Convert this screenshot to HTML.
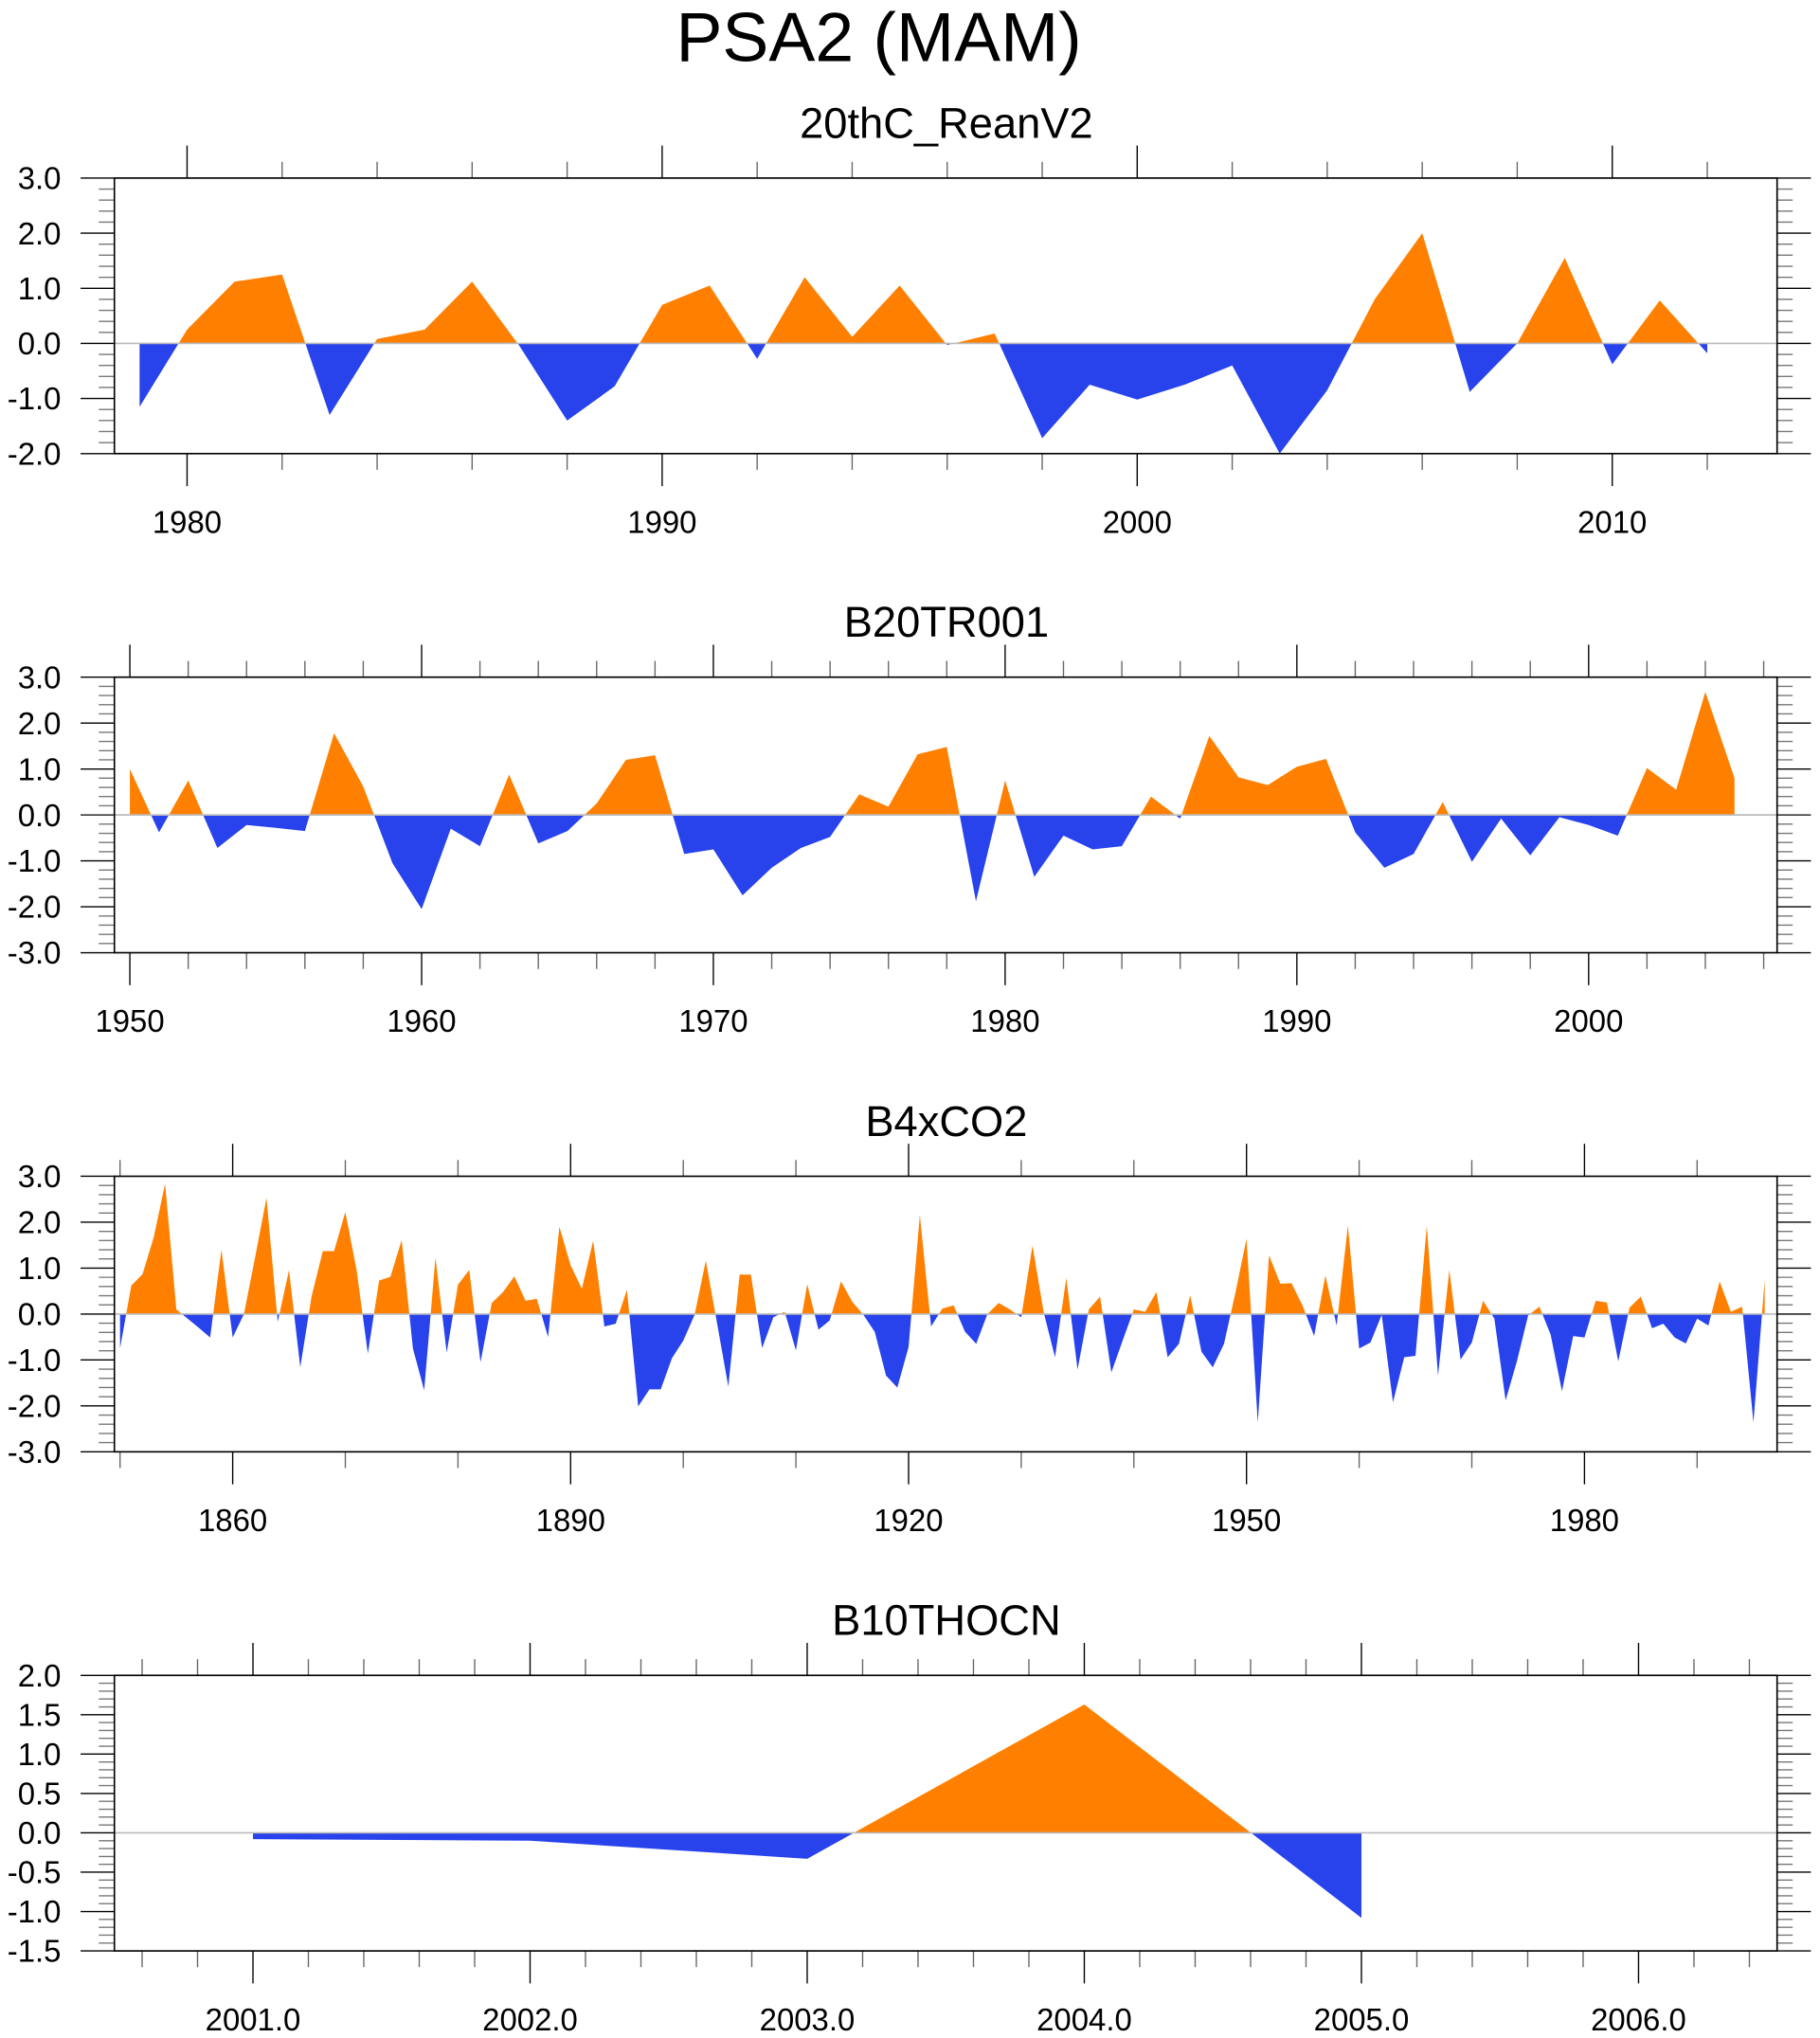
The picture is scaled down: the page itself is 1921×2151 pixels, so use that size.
<!DOCTYPE html>
<html><head><meta charset="utf-8"><style>
html,body{margin:0;padding:0;background:#fff}
svg{display:block}
text{font-family:"Liberation Sans",sans-serif;fill:#000}
</style></head><body>
<svg id="chart" width="1921" height="2151" viewBox="0 0 1400 1568" preserveAspectRatio="none" xmlns="http://www.w3.org/2000/svg">
<text x="676" y="47" font-size="53.5" text-anchor="middle">PSA2 (MAM)</text>
</svg>
<script>
const p1Years=[1979,1980,1981,1982,1983,1984,1985,1986,1987,1988,1989,1990,1991,1992,1993,1994,1995,1996,1997,1998,1999,2000,2001,2002,2003,2004,2005,2006,2007,2008,2009,2010,2011,2012];
const p1Values=[-1.15,0.25,1.12,1.25,-1.3,0.08,0.25,1.12,-0.05,-1.4,-0.78,0.7,1.05,-0.28,1.2,0.12,1.05,-0.03,0.18,-1.72,-0.75,-1.02,-0.75,-0.4,-2.0,-0.85,0.8,2.0,-0.88,0.0,1.55,-0.38,0.78,-0.18];
const p2Start=1950;
const p2Values=[1.0,-0.38,0.75,-0.72,-0.22,-0.28,-0.35,1.78,0.62,-1.05,-2.05,-0.3,-0.68,0.88,-0.62,-0.35,0.25,1.2,1.3,-0.85,-0.75,-1.75,-1.15,-0.72,-0.48,0.45,0.18,1.32,1.48,-1.88,0.75,-1.35,-0.45,-0.75,-0.68,0.4,-0.08,1.72,0.82,0.65,1.05,1.22,-0.38,-1.15,-0.85,0.28,-1.02,-0.08,-0.88,-0.05,-0.22,-0.45,1.02,0.55,2.68,0.8];
const p3Start=1850;
const p3Values=[-0.75,0.62,0.87,1.68,2.84,0.1,-0.1,-0.3,-0.51,1.4,-0.51,0.0,1.25,2.53,-0.17,0.96,-1.16,0.38,1.37,1.37,2.22,0.96,-0.86,0.73,0.81,1.61,-0.75,-1.66,1.23,-0.84,0.64,0.96,-1.05,0.24,0.48,0.82,0.29,0.33,-0.5,1.9,1.06,0.55,1.6,-0.27,-0.21,0.53,-2.01,-1.64,-1.64,-0.96,-0.58,-0.02,1.16,-0.2,-1.58,0.86,0.86,-0.74,-0.07,0.05,-0.79,0.65,-0.34,-0.14,0.71,0.27,-0.02,-0.39,-1.34,-1.6,-0.72,2.16,-0.27,0.12,0.19,-0.38,-0.65,0.0,0.24,0.1,-0.07,1.49,0.03,-0.94,0.79,-1.21,0.1,0.38,-1.27,-0.58,0.1,0.05,0.48,-0.94,-0.65,0.41,-0.82,-1.16,-0.65,0.45,1.64,-2.36,1.28,0.66,0.67,0.17,-0.48,0.84,-0.25,1.93,-0.75,-0.62,-0.02,-1.92,-0.94,-0.91,1.92,-1.34,0.96,-0.99,-0.62,0.29,-0.1,-1.88,-1.03,-0.03,0.16,-0.45,-1.68,-0.48,-0.51,0.29,0.25,-1.03,0.14,0.38,-0.31,-0.21,-0.51,-0.64,-0.1,-0.25,0.71,0.05,0.16,-2.36,0.75];
const p4Years=[2001,2002,2003,2004,2005];
const p4Values=[-0.08,-0.1,-0.33,1.63,-1.08];
const p1YTicks=["3.0","2.0","1.0","0.0","-1.0","-2.0"];
const p2YTicks=["3.0","2.0","1.0","0.0","-1.0","-2.0","-3.0"];
const p4YTicks=["2.0","1.5","1.0","0.5","0.0","-0.5","-1.0","-1.5"];

const NS="http://www.w3.org/2000/svg";
const svg=document.getElementById('chart');
function mk(tag,attrs,parent){const e=document.createElementNS(NS,tag);for(const k in attrs)e.setAttribute(k,attrs[k]);(parent||svg).appendChild(e);return e;}
let clipId=0;
function panel(o){
  const g=mk('g',{});
  
  
  const L=88,R=1367,T=o.top,B=o.top+212;
  const sx=v=>L+(v-o.x0)/(o.x1-o.x0)*(R-L);
  const sy=v=>T+(o.y1-v)/(o.y1-o.y0)*(B-T);
  const t=mk('text',{x:728,y:T-31,'font-size':33,'text-anchor':'middle'},g);
  t.textContent=o.title;
  
  
  const y0=sy(0);
  let d='M'+sx(o.xs[0])+','+y0;
  for(let i=0;i<o.xs.length;i++)d+=' L'+sx(o.xs[i])+','+sy(o.vals[i]);
  d+=' L'+sx(o.xs[o.xs.length-1])+','+y0+' Z';
  const ca='ca'+(clipId++),cb='cb'+(clipId++);
  const defs=mk('defs',{},g);
  const c1=mk('clipPath',{id:ca},defs);mk('rect',{x:L,y:T,width:R-L,height:y0-T},c1);
  const c2=mk('clipPath',{id:cb},defs);mk('rect',{x:L,y:y0,width:R-L,height:B-y0},c2);
  const pa=mk('path',{d:d,fill:'#FF8000','clip-path':'url(#'+ca+')'},g);
  
  
  const pb=mk('path',{d:d,fill:'#2843EC','clip-path':'url(#'+cb+')'},g);
  
  
  const zl=mk('line',{x1:L,x2:R,y1:y0,y2:y0,stroke:'#bbb','stroke-width':1.2},g);
  
  
  const nMaj=o.yLabels.length;
  for(let i=0;i<nMaj;i++){
    const v=o.y1-i*o.yStep, y=sy(v);
    mk('line',{x1:L-26,x2:L,y1:y,y2:y,stroke:'#000','stroke-width':1},g);
    mk('line',{x1:R,x2:R+26,y1:y,y2:y,stroke:'#000','stroke-width':1},g);
    const tx=mk('text',{x:47,y:y+8.5,'font-size':24,'text-anchor':'end'},g);
    tx.textContent=o.yLabels[i];
    
    
    if(i<nMaj-1){for(let k=1;k<o.yMinor;k++){const ym=sy(v-k*o.yStep/o.yMinor);
      mk('line',{x1:L-12,x2:L,y1:ym,y2:ym,stroke:'#777','stroke-width':1},g);
      mk('line',{x1:R,x2:R+12,y1:ym,y2:ym,stroke:'#777','stroke-width':1},g);}}
  }
  for(let v=o.minStart;v<=o.x1+1e-6;v+=o.minStep){
    const x=sx(v); if(x<L-0.5)continue;
    const maj=Math.abs(((v-o.majStart)/o.majStep)-Math.round((v-o.majStart)/o.majStep))<1e-6;
    const len=maj?25:12.5;
    mk('line',{x1:x,x2:x,y1:T-len,y2:T,stroke:maj?'#000':'#666','stroke-width':1},g);
    mk('line',{x1:x,x2:x,y1:B,y2:B+len,stroke:maj?'#000':'#666','stroke-width':1},g);
    if(maj){const tx=mk('text',{x:x,y:B+61,'font-size':24,'text-anchor':'middle'},g);
      tx.textContent=o.fmt(v);
      
      }
  }
  const fr=mk('rect',{x:L,y:T,width:R-L,height:B-T,fill:'none',stroke:'#000','stroke-width':1.2},g);
  
  
}
panel({name:'reanv2',title:'20thC_ReanV2',top:137,x0:1978.47,x1:2013.47,y0:-2,y1:3,yStep:1,yMinor:5,yLabels:p1YTicks,
  xs:p1Years,vals:p1Values,minStart:1980,minStep:2,majStart:1980,majStep:10,fmt:v=>String(Math.round(v))});
panel({name:'b20tr001',title:'B20TR001',top:521,x0:1949.47,x1:2006.46,y0:-3,y1:3,yStep:1,yMinor:5,yLabels:p2YTicks,
  xs:p2Values.map((_,i)=>p2Start+i),vals:p2Values,minStart:1950,minStep:2,majStart:1950,majStep:10,fmt:v=>String(Math.round(v))});
panel({name:'b4xco2',title:'B4xCO2',top:905,x0:1849.5,x1:1997.1,y0:-3,y1:3,yStep:1,yMinor:5,yLabels:p2YTicks,
  xs:p3Values.map((_,i)=>p3Start+i),vals:p3Values,minStart:1850,minStep:10,majStart:1860,majStep:30,fmt:v=>String(Math.round(v))});
panel({name:'b10thocn',title:'B10THOCN',top:1289,x0:2000.5,x1:2006.5,y0:-1.5,y1:2,yStep:0.5,yMinor:5,yLabels:p4YTicks,
  xs:p4Years,vals:p4Values,minStart:2000.6,minStep:0.2,majStart:2001,majStep:1,fmt:v=>Math.round(v)+'.0'});
</script>
</body></html>
